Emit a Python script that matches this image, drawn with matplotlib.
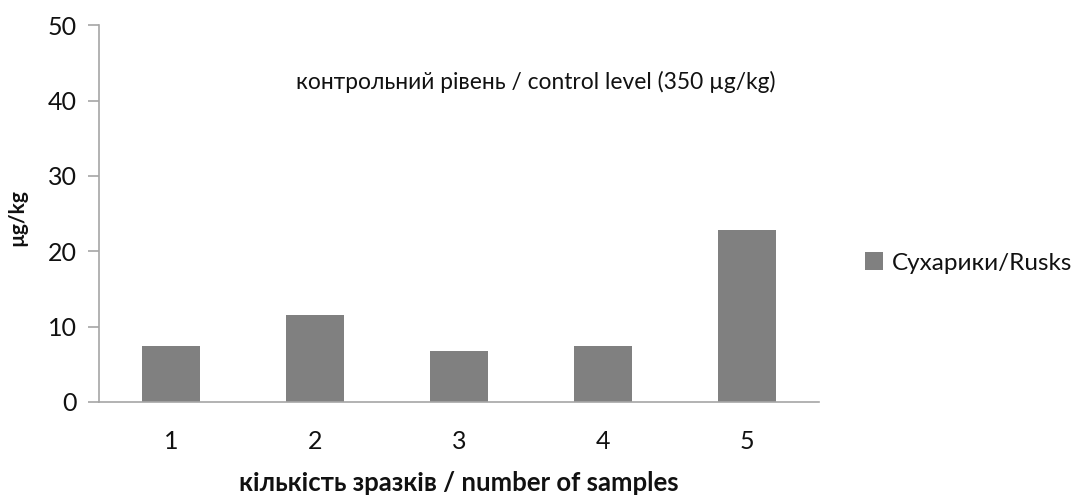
import matplotlib.pyplot as plt

# data
samples = ['1', '2', '3', '4', '5']
rusks = [7.4, 11.5, 6.8, 7.4, 22.8]
series_name = 'Сухарики/Rusks'
note = 'контрольний рівень / control level (350 µg/kg)'

plt.rcParams['font.family'] = ['Lato', 'Noto Sans', 'DejaVu Sans']

fig = plt.figure(figsize=(10.78, 4.95), dpi=100)
ax = fig.add_axes([0.0918, 0.188, 0.668, 0.761])

x = range(len(samples))
ax.bar(x, rusks, width=0.4, color='#808080', label=series_name)

ax.set_xlim(-0.5, len(samples) - 0.5)
ax.set_ylim(0, 50)
ax.set_yticks(range(0, 51, 10))
ax.set_xticks(list(x))
ax.set_xticklabels(samples)

for s in ['top', 'right']:
    ax.spines[s].set_visible(False)
for s in ['left', 'bottom']:
    ax.spines[s].set_color('#a6a6a6')
    ax.spines[s].set_linewidth(1.2)
ax.tick_params(axis='y', colors='#a6a6a6', labelcolor='#111111', labelsize=18,
               length=8, width=1.2, pad=8)
ax.tick_params(axis='x', length=0, labelsize=18, labelcolor='#111111', pad=20)

ax.text(2.53, 42.5, note, ha='center', va='center', fontsize=16.4, color='#111111')

ax.set_xlabel('кількість зразків / number of samples', fontsize=18.5,
              fontweight='bold', color='#111111', labelpad=13)
fig.text(17 / 1078, 1 - 218 / 495, 'µg/kg', rotation=90, ha='center', va='center',
         fontsize=15, fontweight='bold', color='#111111')

ax.legend(loc='center left', bbox_to_anchor=(843 / 1078, 1 - 263 / 495),
          bbox_transform=fig.transFigure, frameon=False, fontsize=17.5,
          handlelength=0.75, handleheight=0.75, handletextpad=0.35,
          labelcolor='#111111')

fig.savefig('out.png', dpi=100)
